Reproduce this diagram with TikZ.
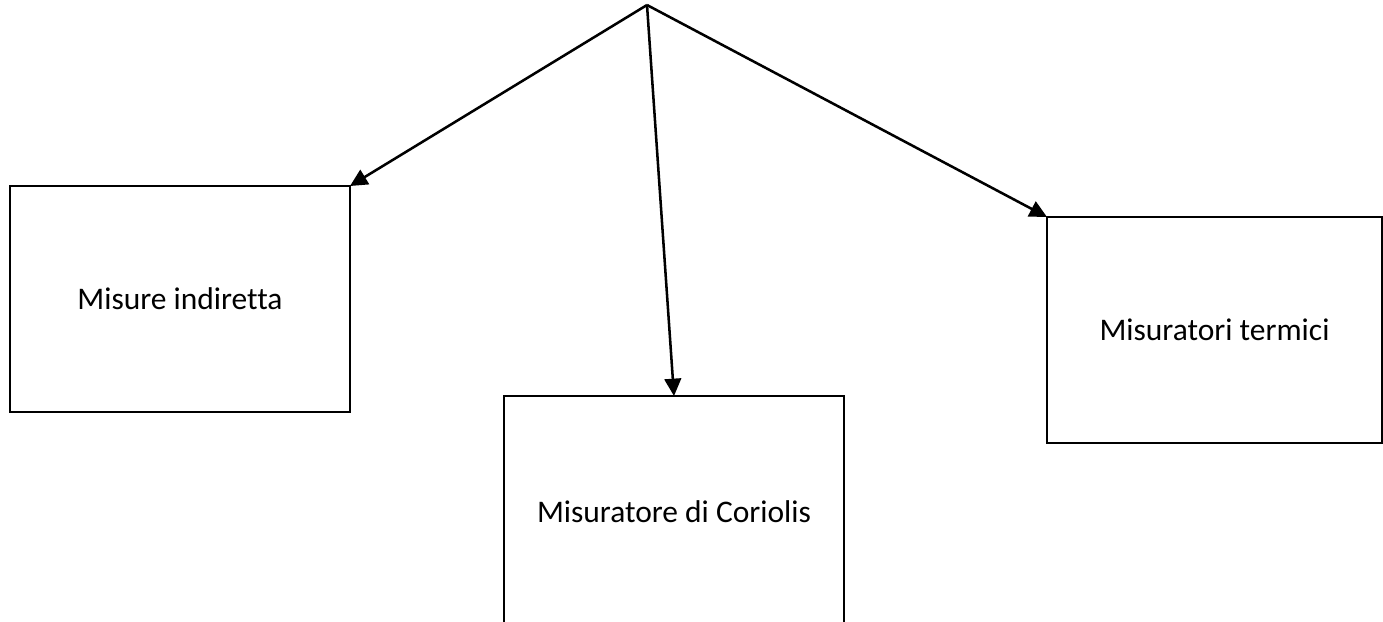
\documentclass[tikz,border=0pt]{standalone}
\usepackage{fontspec}
\setmainfont[Ligatures=NoCommon]{Carlito}
\usepackage{tikz}
\usetikzlibrary{arrows.meta,positioning}

\begin{document}
\begin{tikzpicture}[x=0.75pt, y=-0.75pt]
    % Styles
    \tikzstyle{catbox} = [draw=black, fill=white, line width=1.3pt, outer sep=0pt, inner sep=0pt, font=\fontsize{23.6}{28}\selectfont]
    \tikzstyle{arrow} = [line width=1.9pt, -{Triangle[length=13pt, width=12.5pt]}]

    \useasboundingbox (0,0) rectangle (1383,621);

    % Origin of the branches
    \coordinate (root) at (647, 5);

    % Categories
    \node[catbox, minimum width=255pt, minimum height=169.5pt] (indiretta) at (180, 299) {Misure indiretta};
    \node[catbox, minimum width=255pt, minimum height=174pt] (coriolis) at (674, 512) {Misuratore di Coriolis};
    \node[catbox, minimum width=251.25pt, minimum height=169.5pt] (termici) at (1214.5, 330) {Misuratori termici};

    % Branches
    \draw[arrow] (root) -- (indiretta.north east);
    \draw[arrow] (root) -- (coriolis.north);
    \draw[arrow] (root) -- (termici.north west);
\end{tikzpicture}
\end{document}
